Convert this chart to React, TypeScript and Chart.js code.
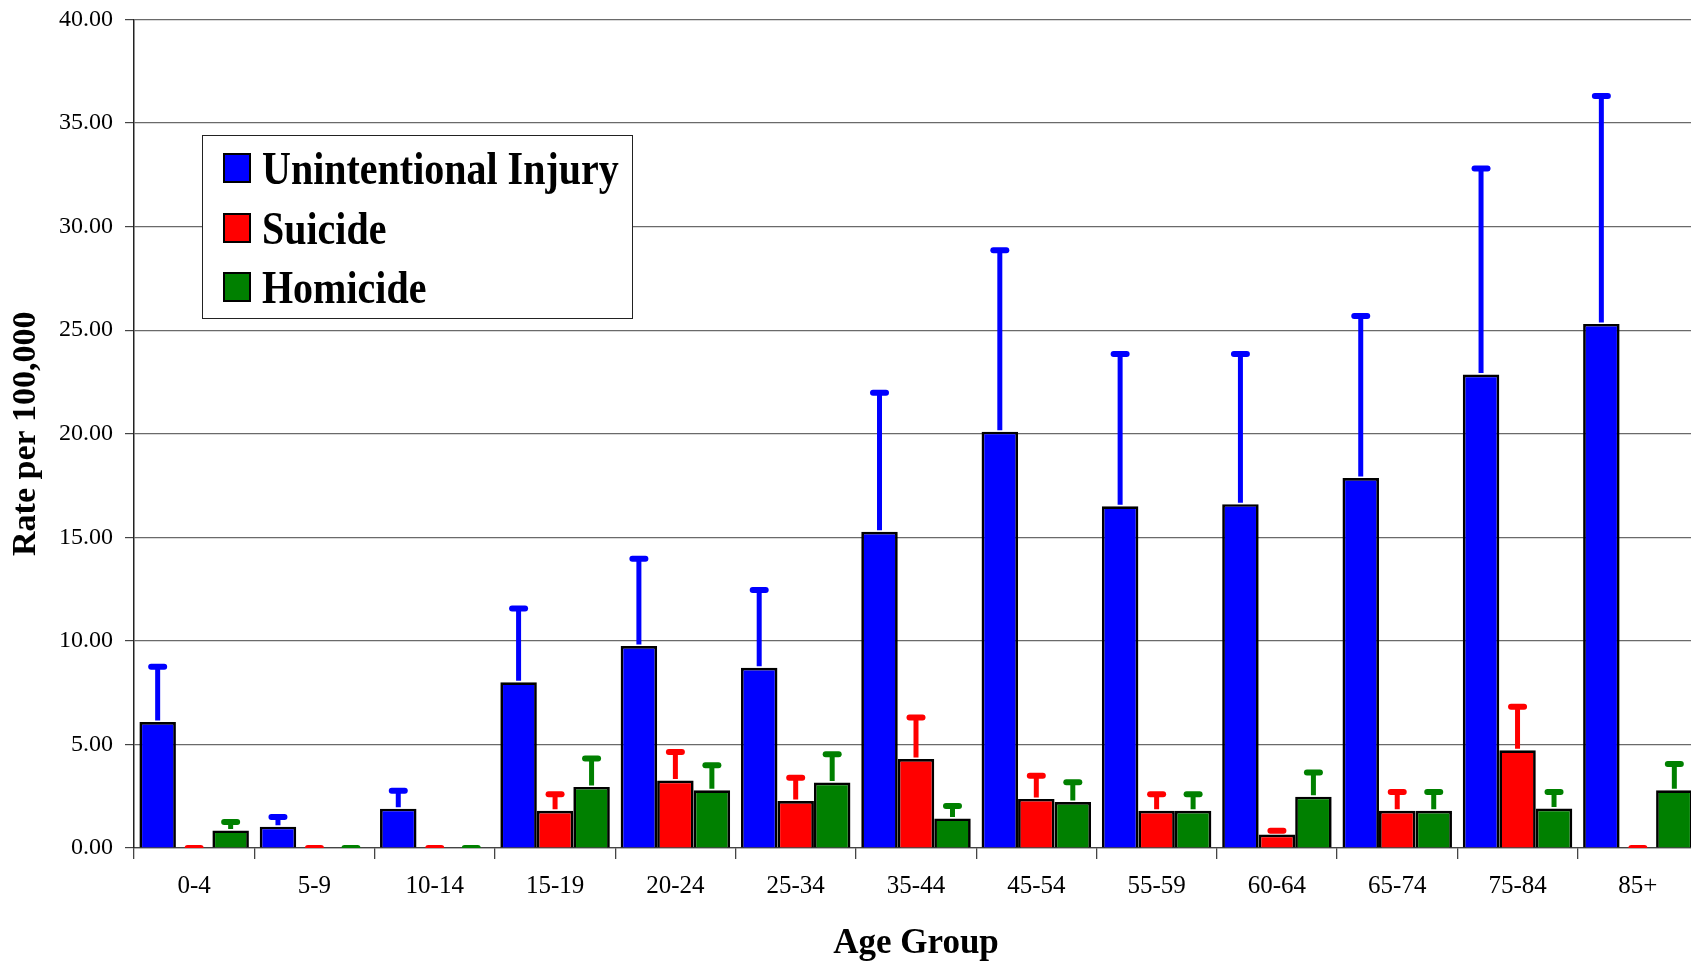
import React, { useEffect, useRef } from "react";
import { Chart, registerables } from "chart.js";

Chart.register(...registerables);

const ageGroups = ["0-4", "5-9", "10-14", "15-19", "20-24", "25-34", "35-44", "45-54", "55-59", "60-64", "65-74", "75-84", "85+"];
const seriesNames = ["Unintentional Injury", "Suicide", "Homicide"];
const seriesColors = ["#0000FF", "#FF0000", "#008000"];

const unintentional = [6.08, 1.03, 1.9, 8.0, 9.75, 8.7, 15.27, 20.1, 16.5, 16.6, 17.86, 22.86, 25.3];
const unintentionalUpper = [8.75, 1.5, 2.76, 11.56, 13.96, 12.45, 21.98, 28.85, 23.85, 23.85, 25.68, 32.8, 36.3];
const suicide = [0, 0, 0, 1.8, 3.26, 2.27, 4.3, 2.37, 1.8, 0.65, 1.8, 4.72, 0];
const suicideUpper = [0, 0, 0, 2.6, 4.64, 3.39, 6.3, 3.49, 2.6, 0.83, 2.7, 6.82, 0];
const homicide = [0.85, 0, 0, 2.95, 2.79, 3.16, 1.43, 2.22, 1.8, 2.48, 1.8, 1.91, 2.79];
const homicideUpper = [1.25, 0, 0, 4.32, 4.0, 4.53, 2.03, 3.18, 2.6, 3.65, 2.7, 2.7, 4.06];

const seriesValues = [unintentional, suicide, homicide];
const seriesUpper = [unintentionalUpper, suicideUpper, homicideUpper];

const yMin = 0;
const yMax = 40;
const yStep = 5;
const xTitle = "Age Group";
const yTitle = "Rate per 100,000";

const FONT = "'Liberation Serif', 'Times New Roman', serif";

const errorBarPlugin = {
  id: "errorBars",
  afterDatasetsDraw(chart: any) {
    const ctx = chart.ctx;
    const yScale = chart.scales.y;
    const area = chart.chartArea;
    ctx.save();
    ctx.beginPath();
    ctx.rect(area.left, area.top - 10, area.right - area.left, area.bottom - area.top + 10);
    ctx.clip();
    chart.data.datasets.forEach((ds: any, i: number) => {
      const meta = chart.getDatasetMeta(i);
      const uppers = seriesUpper[i];
      meta.data.forEach((bar: any, j: number) => {
        const x = bar.x;
        const yTop = yScale.getPixelForValue(ds.data[j]);
        const yUp = yScale.getPixelForValue(uppers[j]);
        ctx.strokeStyle = ds.backgroundColor;
        if (yTop - yUp > 1) {
          ctx.lineWidth = 5;
          ctx.lineCap = "butt";
          ctx.beginPath();
          ctx.moveTo(x, yTop - 1.5);
          ctx.lineTo(x, yUp);
          ctx.stroke();
        }
        ctx.lineWidth = 6;
        ctx.lineCap = "round";
        ctx.beginPath();
        ctx.moveTo(x - 6.5, yUp);
        ctx.lineTo(x + 6.5, yUp);
        ctx.stroke();
      });
    });
    ctx.restore();
  },
};

const legendPlugin = {
  id: "boxLegend",
  afterDraw(chart: any) {
    const ctx = chart.ctx;
    const x0 = 202;
    const y0 = 135;
    const w = 430;
    const h = 183;
    ctx.save();
    ctx.fillStyle = "#ffffff";
    ctx.fillRect(x0, y0, w, h);
    ctx.strokeStyle = "#222";
    ctx.lineWidth = 1;
    ctx.strokeRect(x0 + 0.5, y0 + 0.5, w, h);
    const rows = [168, 228, 287];
    chart.data.datasets.forEach((ds: any, i: number) => {
      const cy = rows[i];
      ctx.fillStyle = ds.backgroundColor;
      ctx.fillRect(224, cy - 14, 26, 28);
      ctx.strokeStyle = "#000";
      ctx.lineWidth = 2;
      ctx.strokeRect(224, cy - 14, 26, 28);
      ctx.save();
      ctx.translate(262, cy + 16);
      ctx.scale(1, 1.18);
      ctx.fillStyle = "#000";
      ctx.font = `bold 40px ${FONT}`;
      ctx.textBaseline = "alphabetic";
      ctx.textAlign = "left";
      ctx.fillText(ds.label, 0, 0);
      ctx.restore();
    });
    ctx.restore();
  },
};

export default function App() {
  const canvasRef = useRef<HTMLCanvasElement | null>(null);

  useEffect(() => {
    document.body.style.margin = "0";
    document.body.style.overflow = "hidden";
    const canvas = canvasRef.current;
    if (!canvas) return;
    const chart = new Chart(canvas, {
      type: "bar",
      data: {
        labels: ageGroups,
        datasets: seriesNames.map((name, i) => ({
          label: name,
          data: seriesValues[i],
          backgroundColor: seriesColors[i],
          borderColor: "#000",
          borderWidth: 2.7,
          categoryPercentage: 0.91,
          barPercentage: 1.0,
        })),
      },
      options: {
        animation: false,
        responsive: false,
        devicePixelRatio: 1,
        layout: { padding: { top: 19.4, left: 0, right: 0, bottom: 0 } },
        plugins: {
          legend: { display: false },
          tooltip: { enabled: false },
        },
        scales: {
          x: {
            type: "category",
            grid: {
              drawOnChartArea: false,
              offset: true,
              tickLength: 11,
              color: "#444",
              lineWidth: 1.3,
            },
            border: { color: "#444", width: 1.3 },
            ticks: {
              color: "#000",
              font: { family: FONT, size: 25 },
              padding: 12,
              maxRotation: 0,
              autoSkip: false,
            },
            title: {
              display: true,
              text: xTitle,
              color: "#000",
              font: { family: FONT, size: 35, weight: "bold", lineHeight: 1.0 },
              padding: { top: 0, bottom: 0 },
            },
            afterFit(scale: any) {
              scale.height = 113;
              scale.paddingLeft = 0;
              scale.paddingRight = 0;
            },
          },
          y: {
            min: yMin,
            max: yMax,
            grid: {
              color: "#6a6a6a",
              lineWidth: 1.2,
              tickLength: 9,
              tickColor: "#444",
            },
            border: { color: "#222", width: 1.5 },
            ticks: {
              stepSize: yStep,
              color: "#000",
              font: { family: FONT, size: 24 },
              padding: 12,
              callback: (v: any) => Number(v).toFixed(2),
            },
            title: {
              display: true,
              text: yTitle,
              color: "#000",
              font: { family: FONT, size: 34, weight: "bold" },
              padding: { top: 6, bottom: 0 },
            },
            afterFit(scale: any) {
              scale.width = 134;
              scale.paddingTop = 0;
              scale.paddingBottom = 0;
            },
          },
        },
      },
      plugins: [errorBarPlugin, legendPlugin],
    });
    return () => chart.destroy();
  }, []);

  return (
    <div style={{ position: "fixed", left: 0, top: 0, width: 1691, height: 961, overflow: "hidden", background: "#fff" }}>
      <canvas ref={canvasRef} width={1698} height={961} style={{ width: 1698, height: 961, display: "block" }} />
    </div>
  );
}
